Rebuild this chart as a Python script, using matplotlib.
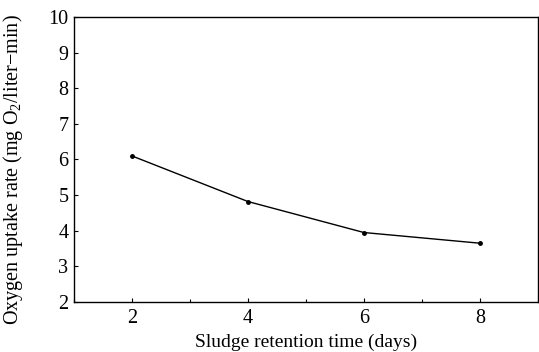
import matplotlib.pyplot as plt
from matplotlib.ticker import MultipleLocator

# Data
srt_days = [2, 4, 6, 8]
uptake_rate = [6.1, 4.82, 3.95, 3.65]

plt.rcParams['font.family'] = ['Liberation Serif', 'DejaVu Serif']
plt.rcParams['mathtext.fontset'] = 'custom'
plt.rcParams['mathtext.rm'] = 'Liberation Serif'

fig = plt.figure(figsize=(5.39, 3.52), dpi=100)
ax = fig.add_axes([0.137, 0.142, 0.861, 0.81])

ax.plot(srt_days, uptake_rate, 'k-', lw=1.0, marker='o', ms=2.5)

ax.set_xlim(1, 9)
ax.set_ylim(2, 10)
ax.set_xticks([2, 4, 6, 8])
ax.xaxis.set_minor_locator(MultipleLocator(1))
ax.yaxis.set_major_locator(MultipleLocator(1))
ax.tick_params(which='both', direction='in', labelsize=14.5)
ax.tick_params(which='major', length=3, width=0.8)
ax.tick_params(which='minor', length=2, width=0.8)
ax.tick_params(axis='x', pad=5)
ax.tick_params(axis='y', pad=4)
for s in ax.spines.values():
    s.set_linewidth(1.0)

ax.set_xlabel('Sludge retention time (days)', fontsize=14, labelpad=4)
ax.set_ylabel('Oxygen uptake rate (mg O$_2$/liter\u2212min)', fontsize=14.5)
ax.yaxis.set_label_coords(-0.105, 0.465)

fig.savefig('out.png', dpi=100)
